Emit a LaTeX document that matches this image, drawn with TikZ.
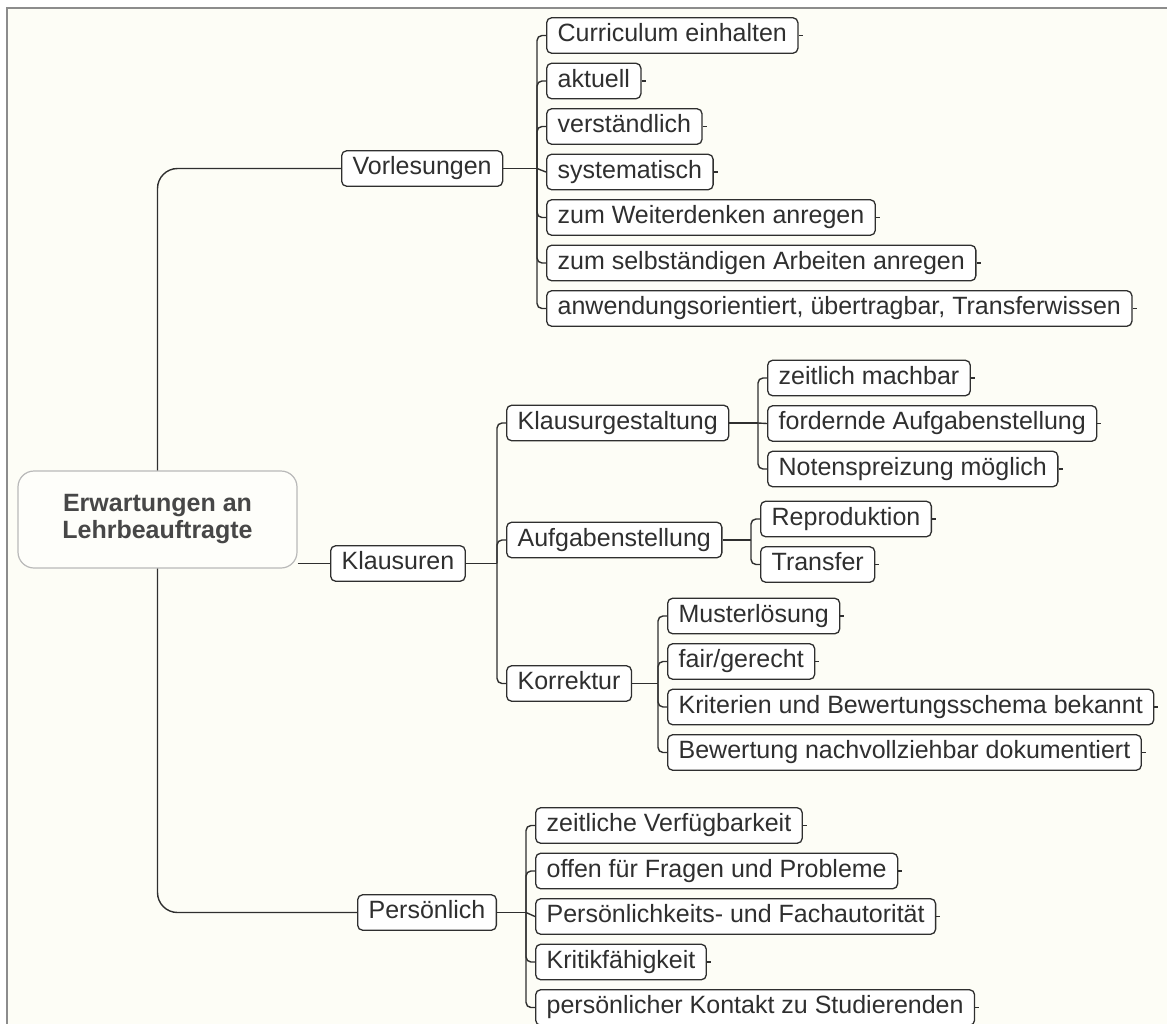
\documentclass[tikz,border=0pt]{standalone}
\usepackage{fontspec}
\setmainfont{Liberation Sans}
\usetikzlibrary{positioning, backgrounds}

\definecolor{paper}{HTML}{FDFDF6}
\definecolor{ink}{HTML}{2F2F2F}
\definecolor{framegray}{HTML}{8C8C8C}

\begin{document}
\begin{tikzpicture}[
			x=1pt, y=-1pt,
			node distance=8.7pt,
			rootbox/.style={rectangle, draw=gray!55, line width=1.2pt, rounded corners=16pt, fill=white!50!paper, minimum width=279pt, minimum height=97pt, align=center, font=\fontsize{25}{27}\selectfont\bfseries, text=black!72},
			topic/.style={rectangle, draw=ink, line width=1.3pt, rounded corners=5pt, fill=white, inner xsep=11pt, inner ysep=6pt, text height=18pt, text depth=5.5pt, font=\fontsize{25}{27}\selectfont, text=ink, anchor=west},
			leaf/.style={topic},
			link/.style={draw=ink, line width=1.4pt, rounded corners=5pt},
			trunk/.style={draw=ink, line width=1.4pt, rounded corners=20pt}
			]
			
			\useasboundingbox (0,0) rectangle (1167,1023);
			
			% Paper and frame
			\begin{scope}[on background layer]
				\fill[white] (0,0) rectangle (1167,1023);
				\fill[paper] (7,8) rectangle (1180,1030);
				\draw[framegray, line width=2pt] (7,1030) -- (7,8) -- (1180,8);
			\end{scope}
			
			% Central topic
			\node[rootbox] (root) at (157.5,519.5) {Erwartungen an\\Lehrbeauftragte};
			
			% Main branches
			\node[topic] (vor) at (341,168.5) {Vorlesungen};
			\node[topic] (klaus) at (330,563.5) {Klausuren};
			\node[topic] (pers) at (357,912.5) {Persönlich};
			
			% Vorlesungen
			\node[leaf] (cur) at (546,35.5) {Curriculum einhalten};
			\node[leaf, below=of cur.south west, anchor=north west] (akt) {aktuell};
			\node[leaf, below=of akt.south west, anchor=north west] (verst) {verständlich};
			\node[leaf, below=of verst.south west, anchor=north west] (syst) {systematisch};
			\node[leaf, below=of syst.south west, anchor=north west] (weiter) {zum Weiterdenken anregen};
			\node[leaf, below=of weiter.south west, anchor=north west] (selbst) {zum selbständigen Arbeiten anregen\hspace{8pt}};
			\node[leaf, below=of selbst.south west, anchor=north west] (anw) {anwendungsorientiert, übertragbar, Transferwissen};
			
			% Klausuren
			\node[topic] (gestalt) at (506,423) {Klausurgestaltung};
			\node[topic] (aufg) at (506,540) {Aufgabenstellung};
			\node[topic] (korr) at (506,683.5) {Korrektur};
			
			\node[leaf] (zeit) at (767,378) {zeitlich machbar};
			\node[leaf, below=of zeit.south west, anchor=north west] (ford) {fordernde Aufgabenstellung};
			\node[leaf, below=of ford.south west, anchor=north west] (noten) {Notenspreizung möglich};
			
			\node[leaf] (repro) at (760,519) {Reproduktion};
			\node[leaf, below=of repro.south west, anchor=north west] (trans) {Transfer};
			
			\node[leaf] (muster) at (667,616) {Musterlösung};
			\node[leaf, below=of muster.south west, anchor=north west] (fair) {fair/gerecht};
			\node[leaf, below=of fair.south west, anchor=north west] (krit) {Kriterien und Bewertungsschema bekannt};
			\node[leaf, below=of krit.south west, anchor=north west] (bewert) {Bewertung nachvollziehbar dokumentiert};
			
			% Persönlich
			\node[leaf] (verf) at (535,825.5) {zeitliche Verfügbarkeit};
			\node[leaf, below=of verf.south west, anchor=north west] (offen) {offen für Fragen und Probleme};
			\node[leaf, below=of offen.south west, anchor=north west] (autor) {Persönlichkeits- und Fachautorität};
			\node[leaf, below=of autor.south west, anchor=north west] (kritik) {Kritikfähigkeit};
			\node[leaf, below=of kritik.south west, anchor=north west] (kontakt) {persönlicher Kontakt zu Studierenden\hspace{6pt}};
			
			% Junctions
			\coordinate[xshift=-9pt] (vj) at (vor.east -| cur.west);
			\coordinate[xshift=-9pt] (kj) at (klaus.east -| gestalt.west);
			\coordinate[xshift=-9pt] (gj) at (gestalt.east -| zeit.west);
			\coordinate[xshift=-9pt] (aj) at (aufg.east -| repro.west);
			\coordinate[xshift=-9pt] (mj) at (korr.east -| muster.west);
			\coordinate[xshift=-9pt] (pj) at (pers.east -| verf.west);
			
			\begin{scope}[on background layer]
				% Trunk
				\draw[trunk] (vor.west) -| (root.center) |- (pers.west);
				\draw[link] (root.east |- klaus.west) -- (klaus.west);
				
				% Vorlesungen
				\draw[link] (vor.east) -- (vj);
				\draw[link] (vj) |- (cur.west);
				\draw[link] (vj) |- (akt.west);
				\draw[link] (vj) |- (verst.west);
				\draw[link] (vj) -- (syst.west);
				\draw[link] (vj) |- (weiter.west);
				\draw[link] (vj) |- (selbst.west);
				\draw[link] (vj) |- (anw.west);
				
				% Klausuren
				\draw[link] (klaus.east) -- (kj);
				\draw[link] (kj) |- (gestalt.west);
				\draw[link] (kj) |- (aufg.west);
				\draw[link] (kj) |- (korr.west);
				
				\draw[link] (gestalt.east) -- (gj);
				\draw[link] (gj) |- (zeit.west);
				\draw[link] (gj) -- (ford.west);
				\draw[link] (gj) |- (noten.west);
				
				\draw[link] (aufg.east) -- (aj);
				\draw[link] (aj) |- (repro.west);
				\draw[link] (aj) |- (trans.west);
				
				\draw[link] (korr.east) -- (mj);
				\draw[link] (mj) |- (muster.west);
				\draw[link] (mj) |- (fair.west);
				\draw[link] (mj) |- (krit.west);
				\draw[link] (mj) |- (bewert.west);
				
				% Persönlich
				\draw[link] (pers.east) -- (pj);
				\draw[link] (pj) |- (verf.west);
				\draw[link] (pj) |- (offen.west);
				\draw[link] (pj) -- (autor.west);
				\draw[link] (pj) |- (kritik.west);
				\draw[link] (pj) |- (kontakt.west);
			\end{scope}
			
			% Collapse ticks
			\foreach \n in {cur, akt, verst, syst, weiter, selbst, anw, zeit, ford, noten, repro, trans, muster, fair, krit, bewert, verf, offen, autor, kritik, kontakt}
			\draw[ink, line width=1.2pt] (\n.east) -- ++(4,0);
			
		\end{tikzpicture}
\end{document}
